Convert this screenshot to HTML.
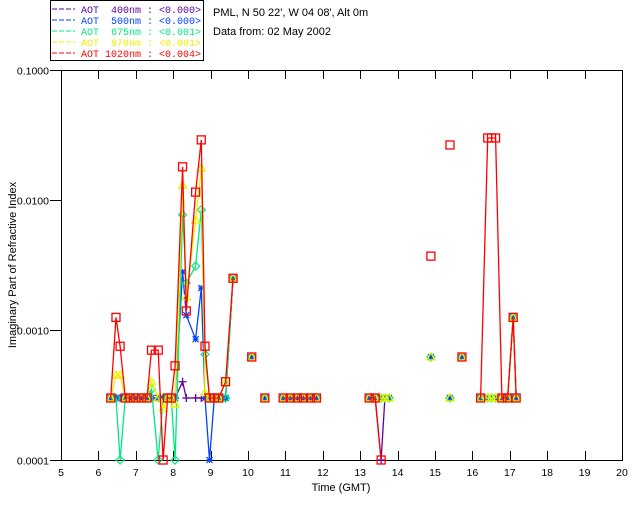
<!DOCTYPE html>
<html><head><meta charset="utf-8"><style>
body{margin:0;background:#fff}
svg{display:block;font-family:"Liberation Sans",sans-serif}
.mono{font-family:"Liberation Mono",monospace;white-space:pre}
</style></head><body>
<svg id="c" width="640" height="512" viewBox="0 0 640 512">
<rect x="0" y="0" width="640" height="512" fill="#fff"/>
<g id="legend">
<rect x="50.5" y="0.5" width="153" height="60" fill="none" stroke="#000"/>
</g>
<text x="213" y="16" font-size="11">PML, N 50 22', W 04 08', Alt 0m</text>
<text x="213" y="35" font-size="11">Data from: 02 May 2002</text>
<g id="axes"></g>
<g id="plot"></g>
<text x="341" y="491" font-size="11" text-anchor="middle">Time (GMT)</text>
<text transform="translate(16,265) rotate(-90)" font-size="11" text-anchor="middle">Imaginary Part of Refractive Index</text>
</svg>
<script>
const times=[6.33,6.47,6.58,6.72,6.85,7.0,7.15,7.3,7.42,7.6,7.73,7.85,7.95,8.05,8.25,8.35,8.6,8.75,8.85,8.97,9.1,9.22,9.4,9.6,10.1,10.45,10.94,11.13,11.32,11.48,11.67,11.83,13.24,13.40,13.56,13.66,13.77,14.89,15.4,15.72,16.22,16.41,16.51,16.62,16.79,16.94,17.09,17.17];
const aot400=[.0003,.0003,.0003,.0003,.0003,.0003,.0003,.0003,.0003,.0003,.0003,.0003,.0003,.0003,.0004,.0003,.0003,.0003,.0003,.0003,.0003,.0003,.0003,.0025,.00062,.0003,.0003,.0003,.0003,.0003,.0003,.0003,.0003,.0003,.0001,.0003,.0003,.00062,.0003,.00062,.0003,.0003,.0003,.0003,.0003,.0003,.00125,.0003];
const aot500=[.0003,.0003,.0003,.0003,.0003,.0003,.0003,.0003,.0003,.0003,.0003,.0003,.0003,.0003,.0028,.0013,.00085,.0021,.0003,.0001,.0003,.0003,.0003,.0025,.00062,.0003,.0003,.0003,.0003,.0003,.0003,.0003,.0003,.0003,.0003,.0003,.0003,.00062,.0003,.00062,.0003,.0003,.0003,.0003,.0003,.0003,.00125,.0003];
const aot675=[.0003,.0003,.0001,.0003,.0003,.0003,.0003,.0003,.00035,.0001,.0003,.0003,.0003,.0001,.0077,.0023,.0031,.0084,.00065,.0003,.0003,.0003,.0003,.0025,.00062,.0003,.0003,.0003,.0003,.0003,.0003,.0003,.0003,.0003,.0003,.0003,.0003,.00062,.0003,.00062,.0003,.0003,.0003,.0003,.0003,.0003,.00125,.0003];
const aot870=[.0003,.00045,.00045,.0003,.0003,.0003,.0003,.0003,.0004,.0003,.00025,.0003,.0003,.00027,.013,.0018,.007,.0176,.00033,.0003,.0003,.0003,.0004,.0025,.00062,.0003,.0003,.0003,.0003,.0003,.0003,.0003,.0003,.0003,.0003,.0003,.0003,.00062,.0003,.00062,.0003,.0003,.0003,.0003,.0003,.0003,.00125,.0003];
const aot1020=[.0003,.00125,.00075,.0003,.0003,.0003,.0003,.0003,.0007,.0007,.0001,.0003,.0003,.00053,.018,.0014,.0115,.029,.00075,.0003,.0003,.0003,.0004,.0025,.00062,.0003,.0003,.0003,.0003,.0003,.0003,.0003,.0003,.0003,.0001,null,null,.0037,.0265,.00062,.0003,.03,.03,.03,.0003,.0003,.00125,.0003];
const xTicks=[5,6,7,8,9,10,11,12,13,14,15,16,17,18,19,20];
const yTicks=[0.0001,0.001,0.01,0.1];
const yTickLabels=["0.0001","0.0010","0.0100","0.1000"];
const legendLabels=["AOT  400nm : <0.000>","AOT  500nm : <0.000>","AOT  675nm : <0.001>","AOT  870nm : <0.001>","AOT 1020nm : <0.004>"];

const NS="http://www.w3.org/2000/svg";
const X0=61,X1=622,Y0=460,Y1=70;
function xs(t){return X0+(t-5)*(X1-X0)/15;}
function ys(v){return Y0-(Math.log10(v)+4)*(Y0-Y1)/3;}
function mk(tag,attrs,parent){const e=document.createElementNS(NS,tag);for(const k in attrs)e.setAttribute(k,attrs[k]);parent.appendChild(e);return e;}
const axes=document.getElementById('axes'),plot=document.getElementById('plot'),leg=document.getElementById('legend');
const frame=mk('rect',{x:X0+.5,y:Y1+.5,width:X1-X0,height:Y0-Y1,fill:'none',stroke:'#000'},axes);


xTicks.forEach(t=>{
  const x=Math.round(xs(t))+.5;
  if(t>5&&t<20){
    const a=mk('line',{x1:x,x2:x,y1:Y0,y2:Y0-9,stroke:'#000'},axes);
    
    
    const b=mk('line',{x1:x,x2:x,y1:Y1,y2:Y1+9,stroke:'#000'},axes);
    
    
  }
  const l=mk('text',{x:xs(t),y:Y0+16,'font-size':10.5,'text-anchor':'middle'},axes);
  l.textContent=t;
  
  
});
yTicks.forEach((v,i)=>{
  const y=Math.round(ys(v))+.5;
  const a=mk('line',{x1:X0-11,x2:X0,y1:y,y2:y,stroke:'#000'},axes);
  
  
  const l=mk('text',{x:X0-12,y:y+4,'font-size':10.5,'text-anchor':'end'},axes);
  l.textContent=yTickLabels[i];
  
  
});
const series=[[aot400,'#6000a0','plus'],[aot500,'#0040ff','star'],[aot675,'#00e880','diamond'],[aot870,'#f0f000','tri'],[aot1020,'#ff0000','square']];
series.forEach((s,si)=>{
  const vals=s[0],col=s[1],m=s[2];
  const g=mk('g',{},plot);
  
  
  let d='',prev=null;
  times.forEach((t,i)=>{
    const v=vals[i];
    if(v==null){prev=null;return;}
    const x=xs(t),y=ys(v);
    if(prev!=null&&t-prev<0.3)d+='L'+x.toFixed(1)+' '+y.toFixed(1);else d+='M'+x.toFixed(1)+' '+y.toFixed(1);
    prev=t;
  });
  const p=mk('path',{d:d,fill:'none',stroke:col,'stroke-width':1.3},g);
  
  
  times.forEach((t,i)=>{
    const v=vals[i];if(v==null)return;
    const x=xs(t),y=ys(v);let e;
    if(m==='square')e=mk('rect',{x:x-4,y:y-4,width:8,height:8,fill:'none',stroke:col,'stroke-width':1.3},g);
    else if(m==='tri')e=mk('path',{d:`M${x-4} ${y+3}L${x} ${y-4}L${x+4} ${y+3}Z`,fill:'none',stroke:col,'stroke-width':1.3},g);
    else if(m==='diamond')e=mk('path',{d:`M${x} ${y-4}L${x+4} ${y}L${x} ${y+4}L${x-4} ${y}Z`,fill:'none',stroke:col,'stroke-width':1.2},g);
    else if(m==='star')e=mk('path',{d:`M${x-3} ${y}H${x+3}M${x} ${y-3}V${y+3}M${x-3} ${y-3}L${x+3} ${y+3}M${x-3} ${y+3}L${x+3} ${y-3}`,stroke:col,'stroke-width':1.2},g);
    else e=mk('path',{d:`M${x-4} ${y}H${x+4}M${x} ${y-4}V${y+4}`,stroke:col,'stroke-width':1.3},g);
    
    
  });
  const ly=9+si*11;
  const ll=mk('line',{x1:52,x2:75,y1:ly,y2:ly,stroke:col,'stroke-dasharray':'5,2'},leg);
  
  
  const lt=mk('text',{x:81,y:ly+4,'font-size':10,fill:col,'class':'mono'},leg);
  lt.textContent=legendLabels[si];
  
  
});
</script>
</body></html>
